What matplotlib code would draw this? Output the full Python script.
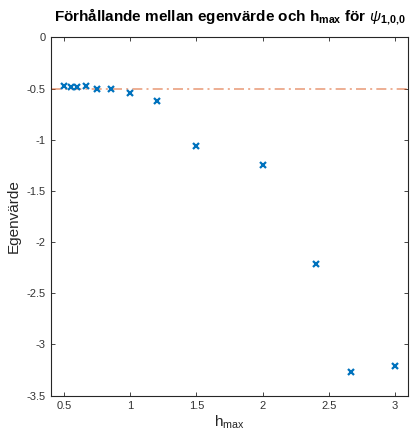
import matplotlib
matplotlib.use('Agg')
import matplotlib.pyplot as plt
import numpy as np

plt.rcParams['font.family'] = ['Liberation Sans', 'DejaVu Sans']
plt.rcParams['mathtext.fontset'] = 'custom'
plt.rcParams['mathtext.rm'] = 'Liberation Sans'
plt.rcParams['mathtext.it'] = 'Liberation Sans:italic'
plt.rcParams['mathtext.bf'] = 'Liberation Sans:bold'

h_max = [0.5, 0.55, 0.6, 0.667, 0.75, 0.857, 1.0, 1.2, 1.5, 2.0, 2.4, 2.667, 3.0]
egenvarde = [-0.475, -0.48, -0.48, -0.475, -0.505, -0.505, -0.543, -0.62,
             -1.06, -1.245, -2.21, -3.27, -3.21]
exakt = -0.5

xticks = [0.5, 1, 1.5, 2, 2.5, 3]
xticklabels = ['0.5', '1', '1.5', '2', '2.5', '3']
yticks = [0, -0.5, -1, -1.5, -2, -2.5, -3, -3.5]
yticklabels = ['0', '-0.5', '-1', '-1.5', '-2', '-2.5', '-3', '-3.5']

fig = plt.figure(figsize=(4.14, 4.3), dpi=100)
ax = fig.add_axes([0.123, 0.08, 0.863, 0.833])

ax.axhline(exakt, color='#D95319', alpha=0.55, linestyle='-.', linewidth=1.2,
           dashes=(6, 2.5, 1.2, 2.5))
ax.plot(h_max, egenvarde, linestyle='none', marker='x', color='#0072BD',
        markersize=4.2, markeredgewidth=1.6)

ax.set_xlim(0.4, 3.1)
ax.set_ylim(-3.5, 0)
ax.set_xticks(xticks)
ax.set_xticklabels(xticklabels)
ax.set_yticks(yticks)
ax.set_yticklabels(yticklabels)

for s in ax.spines.values():
    s.set_color('#262626')
    s.set_linewidth(0.8)
ax.tick_params(direction='in', length=3, width=0.6, colors='#262626',
               labelsize=8, top=True, right=True, labeltop=False, labelright=False,
               pad=4)
for lab in ax.get_xticklabels() + ax.get_yticklabels():
    lab.set_color('#333333')

ax.set_title(r'Förhållande mellan egenvärde och h$_{\mathbf{max}}$ för $\psi_{\mathbf{1{,}0{,}0}}$',
             fontsize=11, fontweight='bold', pad=12)
ax.set_xlabel(r'h$_{\rm max}$', fontsize=11, color='#262626', labelpad=2)
ax.set_ylabel('Egenvärde', fontsize=11, color='#262626', labelpad=4)

fig.savefig('out.png', dpi=100)
